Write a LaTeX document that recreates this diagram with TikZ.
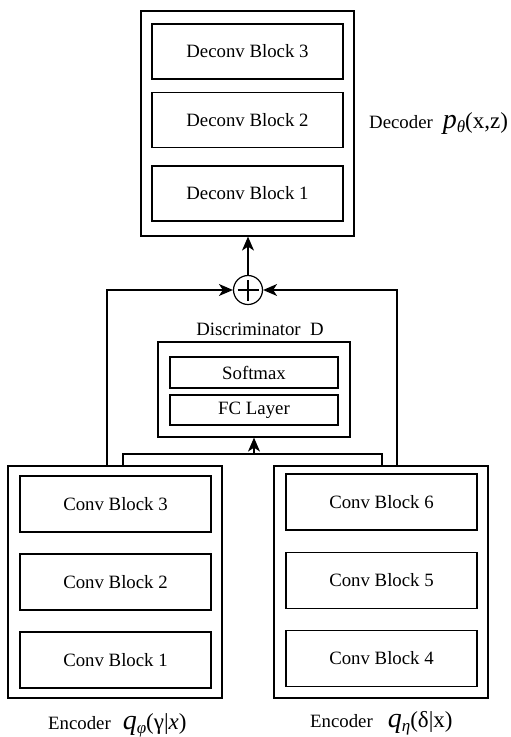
\documentclass[tikz,border=0pt]{standalone}
\usepackage{fontspec}
\setmainfont{Liberation Serif}
\usetikzlibrary{arrows.meta}

\tikzset{
  lbl/.style={font=\fontsize{18.8}{21}\selectfont, inner sep=0pt},
  outerbox/.style={draw, line width=1.2pt, rectangle, inner sep=0pt},
  block/.style={draw, line width=1.2pt, rectangle, inner sep=0pt,
                minimum width=191pt, minimum height=55pt,
                font=\fontsize{18.8}{21}\selectfont},
  smallblock/.style={draw, line width=1.2pt, rectangle, inner sep=0pt,
                minimum width=168pt, minimum height=30pt,
                font=\fontsize{18.8}{21}\selectfont},
  wire/.style={line width=1.2pt},
  arr/.style={line width=1.2pt, -{Stealth[length=14pt,width=12pt,inset=4pt]}},
}

% Big italic symbol with a lowered italic subscript, then an argument list
\newcommand{\distr}[3]{%
  {\fontsize{28}{30}\selectfont\itshape #1}%
  \raisebox{-4pt}{\fontsize{17}{18}\selectfont\itshape #2}%
  {\fontsize{23}{25}\selectfont #3}}

\begin{document}
\begin{tikzpicture}[x=1pt, y=-1pt]
  \useasboundingbox (0,0) rectangle (511,737);

  % Decoder
  \node[outerbox, minimum width=213pt, minimum height=225pt] (dec) at (247.5,123.5) {};
  \node[block] (dc3) at (247.5,51.5) {Deconv Block 3};
  \node[block] (dc2) at (247.5,120) {Deconv Block 2};
  \node[block] (dc1) at (247.5,193.5) {Deconv Block 1};
  \node[lbl, anchor=base west] (declbl) at (369,128)
    {Decoder\hspace{10pt}\distr{p}{θ}{(x,z)}};

  % Summation node
  \node[draw, circle, line width=1.2pt, minimum size=29pt, inner sep=0pt] (sum) at (248,290) {};
  \draw[wire] ([xshift=-10.5pt]sum.center) -- ([xshift=10.5pt]sum.center);
  \draw[wire] ([yshift=-10.5pt]sum.center) -- ([yshift=10.5pt]sum.center);
  \draw[arr] (sum.north) -- (sum.north |- dec.south);

  % Discriminator
  \node[lbl] (disclbl) at (260,329) {Discriminator\ \ D};
  \node[outerbox, minimum width=192pt, minimum height=95pt] (disc) at (254,389.5) {};
  \node[smallblock, minimum height=31pt] (soft) at (254,372.5) {Softmax};
  \node[smallblock] (fc) at (254,410) {FC Layer};

  % Encoder (left)
  \node[outerbox, minimum width=214pt, minimum height=232pt] (encL) at (115,582) {};
  \node[block, minimum height=56pt] (cb3) at (115.5,504) {Conv Block 3};
  \node[block, minimum height=56pt] (cb2) at (115.5,582) {Conv Block 2};
  \node[block, minimum height=56pt] (cb1) at (115.5,660) {Conv Block 1};
  \node[lbl, anchor=base west] (encLlbl) at (48,729)
    {Encoder\hspace{12pt}\distr{q}{φ}{(γ|\textit{x})}};

  % Encoder (right)
  \node[outerbox, minimum width=214pt, minimum height=232pt] (encR) at (381,582) {};
  \node[block, minimum height=56pt] (cb6) at (381.5,502) {Conv Block 6};
  \node[block, minimum height=56pt] (cb5) at (381.5,580.5) {Conv Block 5};
  \node[block, minimum height=56pt] (cb4) at (381.5,658.5) {Conv Block 4};
  \node[lbl, anchor=base west] (encRlbl) at (310,727)
    {Encoder\hspace{15pt}\distr{q}{η}{(δ|x)}};

  % Routing columns
  \coordinate (lo) at (107,0);
  \coordinate (li) at (123,0);
  \coordinate (ri) at (382,0);
  \coordinate (ro) at (397,0);
  \coordinate (bus) at (0,454);

  % Encoder outputs to the summation node
  \draw[arr] (encL.north -| lo) |- (sum.west);
  \draw[arr] (encR.north -| ro) |- (sum.east);

  % Encoder outputs to the discriminator
  \draw[wire] (encL.north -| li) |- (bus -| ri) -- (encR.north -| ri);
  \draw[arr] (bus -| disc.south) -- (disc.south);
\end{tikzpicture}
\end{document}
